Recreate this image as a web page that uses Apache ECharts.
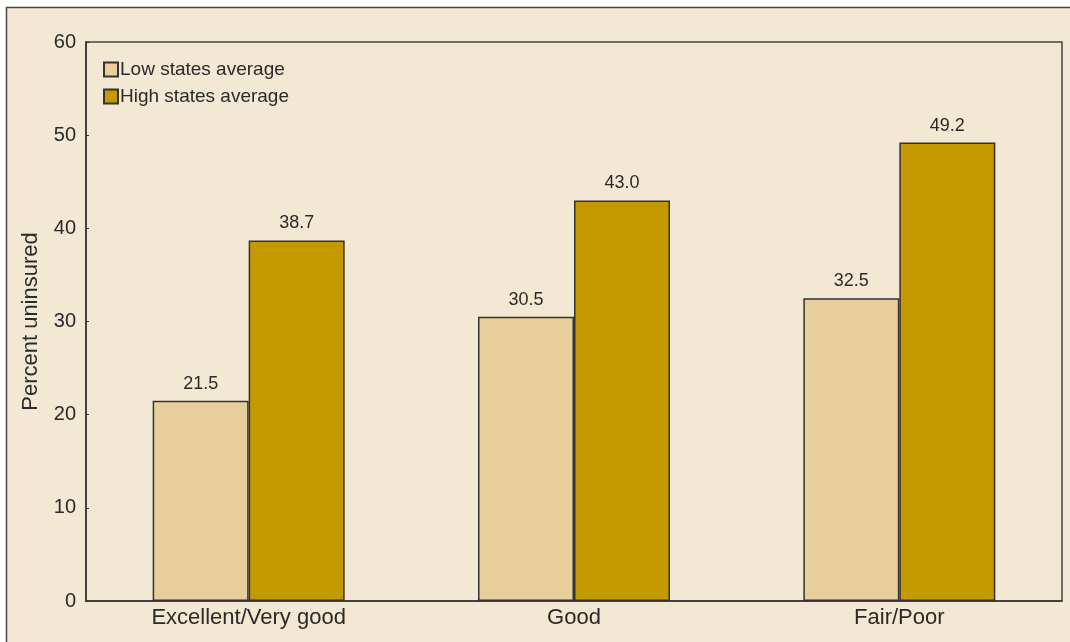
<!DOCTYPE html>
<html>
<head>
<meta charset="utf-8">
<script src="https://cdn.jsdelivr.net/npm/echarts@6/dist/echarts.min.js"></script>
<style>
  html, body { margin: 0; padding: 0; background: #ffffff; }
  #chart { width: 1070px; height: 642px; }
</style>
</head>
<body>
<div id="chart"></div>
<script>
// Health status categories and percent uninsured by state group
const categories = ['Excellent/Very good', 'Good', 'Fair/Poor'];
const lowStatesAverage = [21.5, 30.5, 32.5];
const highStatesAverage = [38.7, 43.0, 49.2];
const yTicks = [0, 10, 20, 30, 40, 50, 60];

const textColor = '#2a2a2a';
const lineColor = '#333333';
const fontFamily = '"Liberation Sans", Arial, Helvetica, sans-serif';

const chart = echarts.init(document.getElementById('chart'), null, { renderer: 'canvas' });

const labelStyle = {
  show: true,
  position: 'top',
  distance: 8,
  color: textColor,
  fontSize: 18,
  fontFamily: fontFamily,
  formatter: p => p.value.toFixed(1)
};

chart.setOption({
  backgroundColor: '#ffffff',
  animation: false,
  textStyle: { fontFamily: fontFamily, color: textColor },
  graphic: [
    {
      // beige panel behind the chart
      type: 'rect',
      z: -10,
      silent: true,
      shape: { x: 6.5, y: 7.5, width: 1100, height: 700 },
      style: { fill: '#f3e8d3' }
    },
    {
      // panel edge along the top and left only
      type: 'polyline',
      z: -9,
      silent: true,
      shape: { points: [[6.5, 642], [6.5, 7.5], [1070, 7.5]] },
      style: { fill: null, stroke: '#4a4a4a', lineWidth: 1.5 }
    }
  ],
  legend: {
    orient: 'vertical',
    left: 98,
    top: 55,
    itemWidth: 14,
    itemHeight: 14,
    itemGap: 8,
    icon: 'rect',
    textStyle: { fontSize: 19, color: textColor, fontFamily: fontFamily, padding: [0, 0, 0, -3] },
    data: ['Low states average', 'High states average']
  },
  grid: {
    left: 86,
    right: 8,
    top: 42,
    bottom: 41,
    show: true,
    borderColor: '#444444',
    borderWidth: 1.5,
    backgroundColor: 'transparent'
  },
  xAxis: {
    type: 'category',
    data: categories,
    axisLine: { lineStyle: { color: lineColor, width: 1.5 } },
    axisTick: { show: false },
    axisLabel: { color: textColor, fontSize: 22, margin: 6, fontFamily: fontFamily }
  },
  yAxis: {
    type: 'value',
    min: yTicks[0],
    max: yTicks[yTicks.length - 1],
    interval: 10,
    name: 'Percent uninsured',
    nameLocation: 'middle',
    nameGap: 44,
    nameTextStyle: { fontSize: 22, color: textColor, fontFamily: fontFamily },
    axisLine: { show: true, lineStyle: { color: lineColor, width: 1.5 } },
    axisTick: { show: true, inside: true, length: 3, lineStyle: { color: lineColor } },
    splitLine: { show: false },
    axisLabel: { color: textColor, fontSize: 20, margin: 10, fontFamily: fontFamily }
  },
  series: [
    {
      name: 'Low states average',
      type: 'bar',
      data: lowStatesAverage,
      barWidth: 96,
      barGap: '0%',
      itemStyle: { color: '#e6cf9a', borderColor: lineColor, borderWidth: 1.5 },
      label: labelStyle
    },
    {
      name: 'High states average',
      type: 'bar',
      data: highStatesAverage,
      barWidth: 96,
      barGap: '0%',
      itemStyle: { color: '#c49a00', borderColor: lineColor, borderWidth: 1.5 },
      label: labelStyle
    }
  ]
});
</script>
</body>
</html>
